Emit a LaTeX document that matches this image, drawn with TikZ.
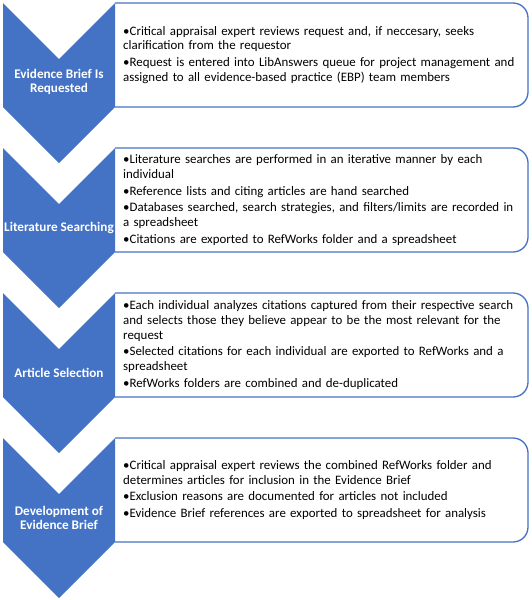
\documentclass[tikz,border=0pt]{standalone}
\usepackage{fontspec}
\setmainfont{Carlito}
\usepackage{tikz}
\usetikzlibrary{positioning}
\definecolor{stepblue}{HTML}{4472C4}
\tikzstyle{chevron} = [fill=stepblue, draw=none]
\tikzstyle{infobox} = [draw=stepblue, line width=1.3pt, fill=white, rounded corners=15pt]
\tikzstyle{steplabel} = [text=white, font=\fontsize{13.2}{14}\selectfont\bfseries, align=center, inner sep=0pt]
\tikzstyle{bullets} = [anchor=west, inner sep=0pt, text width=404pt, align=left, font=\fontsize{12.9}{14.8}\selectfont]
\newcommand{\bul}{\hangindent=0.36em\hangafter=1 \textbullet}
\newcommand{\nxt}{\par\vspace{2pt}\bul}

\begin{document}
\begin{tikzpicture}[x=1pt, y=-1pt]

    \useasboundingbox (0,0) rectangle (532,600);

    % evidence brief is requested
    \draw[infobox] (115,3) -- (528,3) -- (528,107) -- (115,107);
    \fill[chevron] (3,3) -- (59,59) -- (115,3) -- (115,107) -- (59,163) -- (3,107) -- cycle;
    \node[steplabel] (req) at (59,82) {Evidence Brief Is\\Requested};
    \node[bullets] (reqtxt) at (123,55) {\bul Critical appraisal expert reviews request and, if neccesary, seeks\\clarification from the requestor
        \nxt Request is entered into LibAnswers queue for project management and\\assigned to all evidence-based practice (EBP) team members};

    % literature searching
    \draw[infobox] (115,148) -- (528,148) -- (528,252) -- (115,252);
    \fill[chevron] (3,148) -- (59,204) -- (115,148) -- (115,252) -- (59,308) -- (3,252) -- cycle;
    \node[steplabel] (lit) at (59,228) {Literature Searching};
    \node[bullets] (littxt) at (123,200) {\bul Literature searches are performed in an iterative manner by each\\individual
        \nxt Reference lists and citing articles are hand searched
        \nxt Databases searched, search strategies, and filters/limits are recorded in\\a spreadsheet
        \nxt Citations are exported to RefWorks folder and a spreadsheet};

    % article selection
    \draw[infobox] (115,293) -- (528,293) -- (528,397) -- (115,397);
    \fill[chevron] (3,293) -- (59,349) -- (115,293) -- (115,397) -- (59,453) -- (3,397) -- cycle;
    \node[steplabel] (sel) at (59,373) {Article Selection};
    \node[bullets] (seltxt) at (123,345) {\bul Each individual analyzes citations captured from their respective search\\and selects those they believe appear to be the most relevant for the\\request
        \nxt Selected citations for each individual are exported to RefWorks and a\\spreadsheet
        \nxt RefWorks folders are combined and de-duplicated};

    % development of evidence brief
    \draw[infobox] (115,438) -- (528,438) -- (528,542) -- (115,542);
    \fill[chevron] (3,438) -- (59,494) -- (115,438) -- (115,542) -- (59,598) -- (3,542) -- cycle;
    \node[steplabel] (dev) at (59,518) {Development of\\Evidence Brief};
    \node[bullets] (devtxt) at (123,490) {\bul Critical appraisal expert reviews the combined RefWorks folder and\\determines articles for inclusion in the Evidence Brief
        \nxt Exclusion reasons are documented for articles not included
        \nxt Evidence Brief references are exported to spreadsheet for analysis};

\end{tikzpicture}
\end{document}
